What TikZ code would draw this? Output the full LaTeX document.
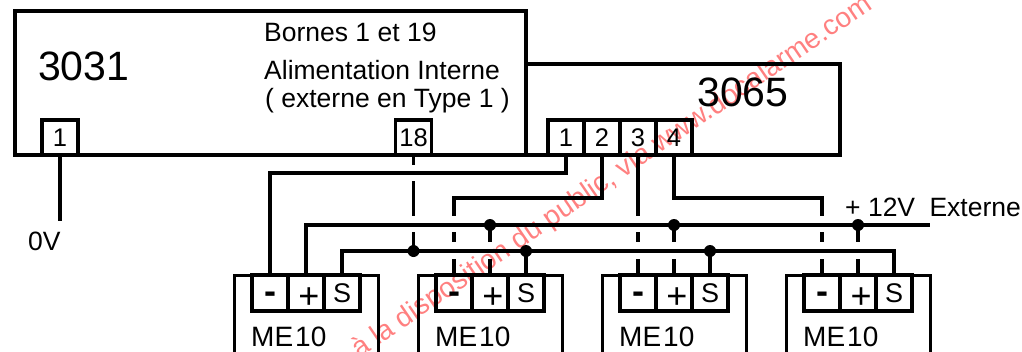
\documentclass[tikz,border=0pt]{standalone}
\usepackage{fontspec}
\setmainfont{Liberation Sans}
\usepackage{tikz}

\tikzset{
    bigtext/.style={font=\fontsize{41}{45}\selectfont, anchor=base west, inner sep=0pt},
    midtext/.style={font=\fontsize{26.5}{30}\selectfont, anchor=base west, inner sep=0pt},
    unitbox/.style={draw, line width=3.5pt, anchor=north west, outer sep=0pt, inner sep=0pt},
    borne/.style={draw, line width=3.2pt, minimum width=36pt, minimum height=35pt, outer sep=0pt, inner sep=0pt,
        font=\fontsize{25.5}{28}\selectfont},
    wire/.style={line width=3.2pt},
    junction/.style={circle, fill, minimum size=12pt, inner sep=0pt},
}

\begin{document}
\begin{tikzpicture}[x=1pt, y=-1pt]
    \useasboundingbox (0,0) rectangle (1022,351);
    \clip (0,0) rectangle (1022,351);

    % Filigrane
    \node[midtext, rotate=34.3, text=red!50, font=\fontsize{28}{30}\selectfont] (wm) at (359,359)
        {à la disposition du public, via www.docalarme.com};

    % Niveaux des fils
    \foreach \name/\y in {lvF/165, lvG/181, lvA/198, lvB/216, lvC/232, lvD/242, lvE/259, busP/225, busS/251}
        \coordinate (\name) at (600,\y);
    \coordinate (extP) at (930,225);
    \coordinate (gnd) at (60,221);

    % Centrales
    \node[unitbox, minimum width=511pt, minimum height=144pt] (c3031) at (15,11) {};
    \node[unitbox, minimum width=314pt, minimum height=91pt] (c3065) at (526,64) {};
    \node[bigtext] (t3031) at (38,80) {3031};
    \node[bigtext] (t3065) at (697,106) {3065};
    \node[midtext] (tb) at (264,41) {Bornes 1 et 19};
    \node[midtext] (ta) at (264,79) {Alimentation Interne};
    \node[midtext] (te) at (265,107) {( externe en Type 1 )};
    \node[midtext] (t0v) at (28,250) {0V};
    \node[midtext] (text) at (845,216) {+ 12V\hspace{7pt} Externe};

    % Bornes des centrales
    \node[borne] (a1) at (60,137.5) {1};
    \node[borne] (a18) at (413.5,137.5) {18};
    \foreach \n/\x in {1/566, 2/602, 3/638, 4/674}
        \node[borne] (b\n) at (\x,137.5) {\n};

    % Detecteurs
    \foreach \n/\x in {1/306, 2/490, 3/674, 4/858} {
        \node[unitbox, line width=3pt, anchor=north, minimum width=144pt, minimum height=100pt] (me\n) at (\x,275) {};
        \node[borne, minimum height=36pt] (me\n-m) at (\x-36,293)
            {\raisebox{-10pt}[0pt][0pt]{\fontsize{36}{36}\selectfont\bfseries -}};
        \node[borne, minimum height=36pt] (me\n-p) at (\x,293)
            {\kern6pt\raisebox{-15pt}[0pt][0pt]{\fontsize{36}{36}\selectfont +}};
        \node[borne, minimum height=36pt, font=\fontsize{27}{30}\selectfont] (me\n-s) at (\x+36,293) {S};
        \node[midtext, font=\fontsize{28}{30}\selectfont] (me\n-t) at (\x-55,346) {ME\kern2pt10};
    }

    % Fils
    \draw[wire] (a1.south) -- (gnd);
    \draw[wire] (b1.south) |- (me1-m.north |- 0,173) -- (me1-m.north);
    \draw[wire] (me1-p.north) |- (extP);
    \draw[wire] (me1-s.north) |- (busS) -| (me4-s.north);

    % Fil de la borne 18
    \draw[wire] (a18.south) -- (a18.south |- lvF);
    \draw[wire] (a18.south |- lvG) -- (a18.south |- lvB);
    \draw[wire] (a18.south |- lvC) -- (a18.south |- busS);

    % Fils coupes
    \draw[wire] (b2.south) |- (me2-m.north |- lvA) -- (me2-m.north |- lvB);
    \draw[wire] (b3.south) -- (b3.south |- lvB);
    \draw[wire] (b4.south) |- (me4-m.north |- lvA) -- (me4-m.north |- lvB);
    \foreach \n in {2,3,4} {
        \draw[wire] (me\n-m.north |- lvC) -- (me\n-m.north |- lvD);
        \draw[wire] (me\n-m.north |- lvE) -- (me\n-m.north);
        \draw[wire] (me\n-p.north |- busP) -- (me\n-p.north |- lvD);
        \draw[wire] (me\n-p.north |- lvE) -- (me\n-p.north);
        \node[junction] (jp\n) at (me\n-p.north |- busP) {};
    }
    \draw[wire] (me2-s.north |- busS) -- (me2-s.north);
    \draw[wire] (me3-s.north |- busS) -- (me3-s.north);

    % Points de jonction
    \node[junction] (js1) at (a18.south |- busS) {};
    \node[junction] (js2) at (me2-s.north |- busS) {};
    \node[junction] (js3) at (me3-s.north |- busS) {};
\end{tikzpicture}
\end{document}
